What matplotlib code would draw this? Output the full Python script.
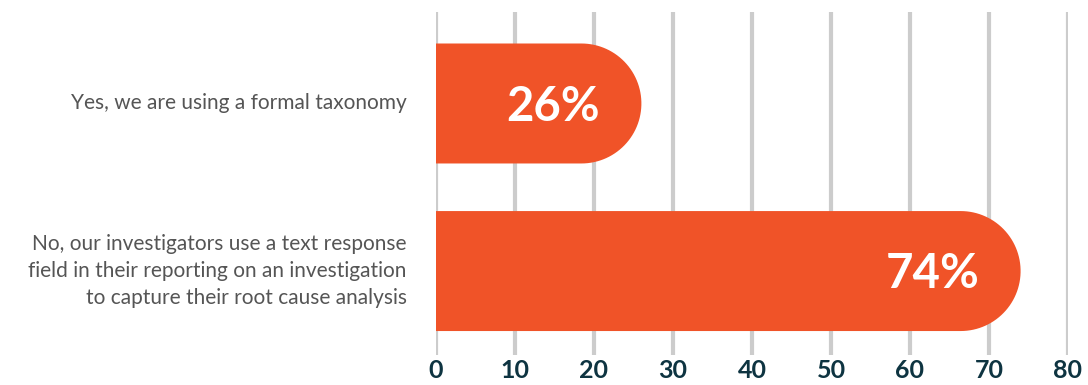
import numpy as np
import matplotlib.pyplot as plt
from matplotlib.patches import Polygon

# Survey answers and shares, %
answers = [
    'Yes, we are using a formal taxonomy',
    'No, our investigators use a text response\nfield in their reporting on an investigation\nto capture their root cause analysis',
]
shares = [26, 74]
ticks = [0, 10, 20, 30, 40, 50, 60, 70, 80]

bar_color = '#F05328'
grid_color = '#CCCCCC'
tick_color = '#0E3441'
text_color = '#555555'

W, H = 1088, 385
fig = plt.figure(figsize=(W / 100, H / 100), dpi=100)
ax = fig.add_axes([436 / W, 30 / H, (1068 - 436) / W, 343 / H])

ax.set_xlim(0, 80)
ax.set_ylim(1.501, -0.546)
bar_h = 0.716

# pixel scale of each axis, to make the bar ends true half-circles
px_x = (1068 - 436) / 80
px_y = 343 / (1.501 + 0.546)
rx = (bar_h / 2) * px_y / px_x
ang = np.linspace(np.pi / 2, -np.pi / 2, 60)

for i, v in enumerate(shares):
    cx = v - rx
    xs = np.concatenate([[0], cx + rx * np.cos(ang), [0]])
    ys = np.concatenate([[i - bar_h / 2], i - (bar_h / 2) * np.sin(ang), [i + bar_h / 2]])
    ax.add_patch(Polygon(np.column_stack([xs, ys]), closed=True,
                         facecolor=bar_color, edgecolor='none', zorder=3))
    ax.text(v - 5.2, i + 0.02, f'{v}%', ha='right', va='center', color='white',
            fontsize=34, fontweight='bold', family='Lato', zorder=4)
    ax.text(-3.7, i, answers[i], ha='right', va='center', color=text_color,
            fontsize=15, family='Lato', linespacing=1.45)

for t in ticks:
    ax.axvline(t, color=grid_color, linewidth=3, zorder=1)

ax.set_xticks(ticks)
ax.set_xticklabels([str(t) for t in ticks], fontsize=18, fontweight='bold',
                   color=tick_color, family='Lato')
ax.tick_params(axis='x', length=0, pad=3)
ax.set_yticks([])
for s in ax.spines.values():
    s.set_visible(False)

fig.savefig('out.png', dpi=100)
